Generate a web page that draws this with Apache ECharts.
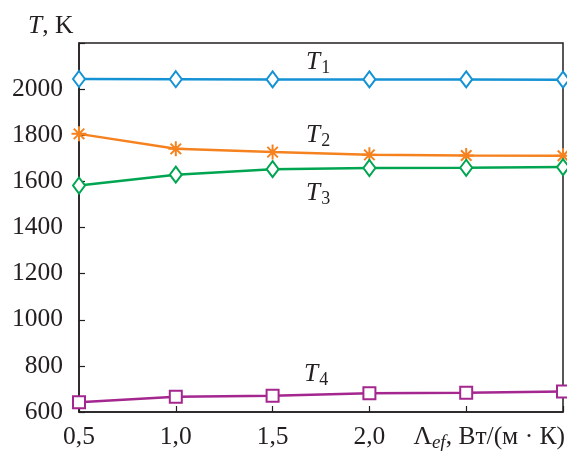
<!DOCTYPE html>
<html>
<head>
<meta charset="utf-8">
<script src="https://cdn.jsdelivr.net/npm/echarts@6/dist/echarts.min.js"></script>
<style>
html,body{margin:0;padding:0;background:#fff;}
#chart{width:567px;height:451px;}
</style>
</head>
<body>
<div id="chart"></div>
<script>
var lambdaValues = [0.5, 1.0, 1.5, 2.0, 2.5, 3.0];
var T1 = [2044, 2043, 2042, 2042, 2042, 2041];
var T2 = [1806, 1741, 1727, 1715, 1712, 1711];
var T3 = [1582, 1629, 1653, 1658, 1659, 1662];
var T4 = [642, 666, 671, 681, 684, 689];
var xTickLabels = ['0,5', '1,0', '1,5', '2,0'];
var yTickLabels = ['600', '800', '1000', '1200', '1400', '1600', '1800', '2000'];

var FONT = 'Liberation Serif';
var INK = '#231f20';
var FS = 25.5;

function pairs(ys) { return lambdaValues.map(function (x, i) { return [x, ys[i]]; }); }

var asterisk = 'path://M0,-10L0,10M-10,0L10,0M-7,-7L7,7M-7,7L7,-7';

function subLabel(n, x, y) {
  return {
    type: 'text', left: x, top: y,
    style: {
      text: '{t|T}{s|' + n + '}',
      rich: {
        t: { fontFamily: FONT, fontStyle: 'italic', fontSize: FS, fill: INK },
        s: { fontFamily: FONT, fontSize: 18, fill: INK, padding: [12, 0, 0, 1] }
      }
    }
  };
}

var chart = echarts.init(document.getElementById('chart'), null, { renderer: 'canvas' });
chart.setOption({
  animation: false,
  backgroundColor: '#fff',
  grid: { left: 79, right: 4, top: 43, bottom: 39, show: true, borderColor: INK, borderWidth: 1.5, backgroundColor: 'transparent' },
  xAxis: {
    type: 'value', min: 0.5, max: 3.0, interval: 0.5,
    axisLine: { show: true, lineStyle: { color: INK, width: 1.5 } },
    axisTick: { show: true, inside: true, length: 6, lineStyle: { color: INK, width: 1.2 } },
    splitLine: { show: false },
    axisLabel: {
      margin: 12, color: INK, fontFamily: FONT, fontSize: FS,
      formatter: function (v) {
        var s = v.toFixed(1).replace('.', ',');
        return xTickLabels.indexOf(s) >= 0 ? s : '';
      }
    }
  },
  yAxis: {
    type: 'value', min: 600, max: 2200, interval: 200,
    axisLine: { show: true, lineStyle: { color: INK, width: 1.5 } },
    axisTick: { show: true, inside: true, length: 6, lineStyle: { color: INK, width: 1.2 } },
    splitLine: { show: false },
    axisLabel: {
      margin: 16, color: INK, fontFamily: FONT, fontSize: FS,
      formatter: function (v) {
        var s = String(v);
        return yTickLabels.indexOf(s) >= 0 ? s : '';
      }
    }
  },
  series: [
    { name: 'T1', type: 'line', data: pairs(T1), symbol: 'diamond', symbolSize: [12, 16],
      lineStyle: { color: '#1592d4', width: 2.5 },
      itemStyle: { color: '#fff', borderColor: '#1592d4', borderWidth: 2 } },
    { name: 'T2', type: 'line', data: pairs(T2), symbol: asterisk, symbolSize: 15,
      lineStyle: { color: '#f5821f', width: 2.5 },
      itemStyle: { color: 'transparent', borderColor: '#f5821f', borderWidth: 2 } },
    { name: 'T3', type: 'line', data: pairs(T3), symbol: 'diamond', symbolSize: [12, 16],
      lineStyle: { color: '#00a551', width: 2.5 },
      itemStyle: { color: '#fff', borderColor: '#00a551', borderWidth: 2 } },
    { name: 'T4', type: 'line', data: pairs(T4), symbol: 'rect', symbolSize: 12,
      lineStyle: { color: '#a4268f', width: 2.5 },
      itemStyle: { color: '#fff', borderColor: '#a4268f', borderWidth: 2 } }
  ],
  graphic: [
    {
      type: 'text', left: 28, top: 13,
      style: {
        text: '{t|T}{n|, K}',
        rich: {
          t: { fontFamily: FONT, fontStyle: 'italic', fontSize: FS, fill: INK },
          n: { fontFamily: FONT, fontSize: FS, fill: INK }
        }
      }
    },
    subLabel(1, 306, 49),
    subLabel(2, 306, 122),
    subLabel(3, 306, 180),
    subLabel(4, 304, 361),
    {
      type: 'text', right: 2, top: 424,
      style: {
        text: '{l|\u039B}{s|ef}{n|, \u0412\u0442/(\u043C \u00B7 \u041A)}',
        rich: {
          l: { fontFamily: FONT, fontSize: FS, fill: INK },
          s: { fontFamily: FONT, fontStyle: 'italic', fontSize: 19, fill: INK, padding: [12, 0, 0, 0] },
          n: { fontFamily: FONT, fontSize: FS, fill: INK }
        }
      }
    }
  ]
});
</script>
</body>
</html>
